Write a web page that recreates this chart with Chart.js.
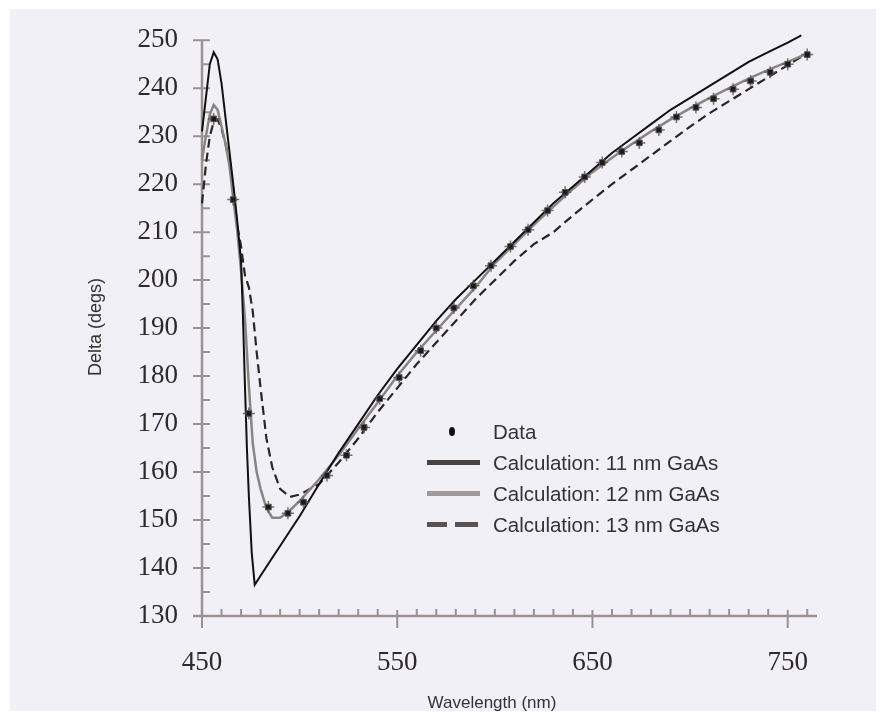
<!DOCTYPE html>
<html>
<head>
<meta charset="utf-8">
<script src="https://cdn.jsdelivr.net/npm/chart.js@4.4.1/dist/chart.umd.min.js"></script>
<style>
  html, body { margin: 0; padding: 0; background: #fff; }
  #wrap { position: relative; width: 885px; height: 719px; }
  #panel { position: absolute; left: 10px; top: 9px; width: 866px; height: 702px; background: #f0f0f6; }
  #grafico { position: absolute; left: 0; top: 0; }
  .leg { position: absolute; font-family: "Liberation Sans", Arial, sans-serif; font-size: 20.5px; color: #333; line-height: 24px; white-space: nowrap; }
  .tit { position: absolute; font-family: "Liberation Sans", Arial, sans-serif; color: #333; white-space: nowrap; line-height: 20px; }
  .sym { position: absolute; }
</style>
</head>
<body>
<div id="wrap">
  <div id="panel"></div>
  <canvas id="grafico" width="885" height="719"></canvas>
  <div class="tit" style="left:392px;top:693px;width:200px;text-align:center;font-size:17px;">Wavelength (nm)</div>
  <div class="tit" style="left:-5px;top:317px;width:200px;text-align:center;font-size:18px;transform:rotate(-90deg);">Delta (degs)</div>
  <div class="sym" style="left:449px;top:427px;width:6px;height:9px;border-radius:50%;background:#111;"></div>
  <div class="leg" style="left:493px;top:420px;">Data</div>
  <div class="sym" style="left:427px;top:460px;width:53px;height:5px;background:#4b4343;"></div>
  <div class="leg" style="left:493px;top:451px;">Calculation: 11 nm GaAs</div>
  <div class="sym" style="left:427px;top:491px;width:53px;height:5px;background:#a29a9a;"></div>
  <div class="leg" style="left:493px;top:482px;">Calculation: 12 nm GaAs</div>
  <div class="sym" style="left:427px;top:522px;width:20px;height:5px;background:#5a5252;"></div>
  <div class="sym" style="left:455px;top:522px;width:23px;height:5px;background:#5a5252;"></div>
  <div class="leg" style="left:493px;top:513px;">Calculation: 13 nm GaAs</div>
</div>
<script>
// measured data
const dataWl = [456, 466, 474, 484, 494, 502, 514, 524, 533, 541, 551, 562, 570, 579, 589,
  598, 608, 617, 627, 636, 646, 655, 665, 674, 684, 693, 703, 712, 722, 731, 741, 750, 760];
const dataDelta = [233.6, 216.8, 172.2, 152.7, 151.4, 153.7, 159.3, 163.5, 169.3, 175.3, 179.7, 185.3, 190, 194.2, 198.8,
  203, 207, 210.5, 214.5, 218.3, 221.5, 224.5, 226.8, 228.6, 231.3, 234, 236, 237.8, 239.8, 241.5, 243.3, 245, 247];

// 11 nm calculation
const wl11 = [450, 452, 454, 456, 458, 460, 462, 464, 466, 468, 470, 471, 472, 473, 474, 475.5, 477,
  480, 485, 490, 495, 500, 510, 520, 530, 540, 550, 560, 570, 580, 590, 600, 610, 620, 630, 640,
  650, 660, 670, 680, 690, 700, 710, 720, 730, 740, 750, 757];
const delta11 = [231, 238, 245, 247.5, 246, 241, 234, 227, 220, 212.5, 204, 192, 178, 165, 155, 143, 136.5,
  138.4, 141.5, 144.6, 147.7, 150.8, 157.5, 164, 170, 176, 181.5, 186.5, 191.5, 196, 200, 204, 208, 212, 216, 219.5,
  223, 226.5, 229.5, 232.5, 235.5, 238, 240.5, 243, 245.5, 247.5, 249.5, 251];

// 12 nm calculation
const wl12 = [450, 452, 454, 456, 458, 460, 462, 464, 466, 468, 470, 472, 474, 476, 478, 480, 483, 486,
  490, 495, 500, 510, 520, 530, 540, 550, 560, 570, 580, 590, 600, 610, 620, 630, 640,
  650, 660, 670, 680, 690, 700, 710, 720, 730, 740, 750, 760];
const delta12 = [225, 230, 234.5, 236.5, 235.5, 232, 228.5, 224, 217, 210.5, 202, 192, 178, 166, 160, 156.5, 152.5, 150.5,
  150.5, 152, 154, 158.5, 163.5, 169, 174.5, 180, 185, 189.5, 194, 198.5, 203.5, 207.5, 211.5, 215.3, 219,
  222.5, 225.5, 228.3, 231, 233.5, 235.8, 238, 240, 242, 243.8, 245.5, 247.2];

// 13 nm calculation
const wl13 = [450, 452, 454, 456, 458, 460, 462, 464, 466, 468, 470, 472, 474, 476, 478, 480, 483, 486,
  490, 495, 500, 510, 520, 530, 540, 550, 560, 570, 580, 590, 600, 610, 620, 630, 640,
  650, 660, 670, 680, 690, 700, 710, 720, 730, 740, 750, 760];
const delta13 = [216, 224, 230, 233, 233.5, 231.5, 228.5, 224.5, 219, 211.5, 207, 201, 198.5, 193.5, 185, 177.5, 167, 161,
  156.5, 154.8, 155.3, 157.5, 162, 167, 172.5, 177.5, 182.5, 187, 191.5, 196, 200, 204, 207.5, 210, 213.5,
  216.8, 220, 223, 226, 229, 232, 234.8, 237.3, 239.8, 242.3, 244.8, 247.3];

const yTicks = [130, 140, 150, 160, 170, 180, 190, 200, 210, 220, 230, 240, 250];
const xTicks = [450, 550, 650, 750];

function pares(xs, ys) {
  return xs.map(function (x, i) { return { x: x, y: ys[i] }; });
}

const corEixo = "#9a9292";

const eixos = {
  id: "eixos",
  beforeDatasetsDraw(chart) {
    const c = chart.ctx;
    const sx = chart.scales.x, sy = chart.scales.y;
    const x0 = sx.getPixelForValue(450);
    const y0 = sy.getPixelForValue(130);
    c.save();
    c.strokeStyle = corEixo;
    c.lineWidth = 2.5;
    c.beginPath();
    c.moveTo(x0, y0);
    c.lineTo(x0, sy.getPixelForValue(250));
    c.moveTo(x0 - 9, y0);
    c.lineTo(sx.right, y0);
    c.stroke();
    c.lineWidth = 2;
    c.beginPath();
    for (let v = 130; v <= 250; v += 5) {
      const y = sy.getPixelForValue(v);
      if (v % 10 === 0) { c.moveTo(x0 - 9, y); c.lineTo(x0 + 8, y); }
      else { c.moveTo(x0, y); c.lineTo(x0 + 8, y); }
    }
    for (let v = 460; v <= 760; v += 10) {
      const x = sx.getPixelForValue(v);
      if ((v - 450) % 100 === 0) { c.moveTo(x, y0 - 6); c.lineTo(x, y0 + 12); }
      else { c.moveTo(x, y0 - 7); c.lineTo(x, y0); }
    }
    const xa = sx.getPixelForValue(450);
    c.moveTo(xa, y0); c.lineTo(xa, y0 + 12);
    c.stroke();
    c.restore();
  }
};

const ctx = document.getElementById("grafico");

new Chart(ctx, {
  type: "scatter",
  data: {
    datasets: [
      {
        label: "Data",
        data: pares(dataWl, dataDelta),
        showLine: false,
        pointStyle: "rect",
        pointRadius: 4,
        backgroundColor: "#1c1a1a",
        borderColor: "#555",
        borderWidth: 1,
        clip: false,
      },
      {
        label: "Data (barras)",
        data: pares(dataWl, dataDelta),
        showLine: false,
        pointStyle: "cross",
        pointRadius: 6,
        backgroundColor: "rgba(0,0,0,0)",
        borderColor: "rgba(90,82,82,0.8)",
        borderWidth: 1.5,
        clip: false,
      },
      {
        label: "Calculation: 11 nm GaAs",
        data: pares(wl11, delta11),
        showLine: true,
        pointRadius: 0,
        borderColor: "#111",
        borderWidth: 2,
        tension: 0,
        clip: false,
      },
      {
        label: "Calculation: 12 nm GaAs",
        data: pares(wl12, delta12),
        showLine: true,
        pointRadius: 0,
        borderColor: "#8c8484",
        borderWidth: 2.5,
        tension: 0,
        clip: false,
      },
      {
        label: "Calculation: 13 nm GaAs",
        data: pares(wl13, delta13),
        showLine: true,
        pointRadius: 0,
        borderColor: "#2a2626",
        borderWidth: 2.2,
        borderDash: [9, 5],
        tension: 0,
        clip: false,
      },
    ],
  },
  options: {
    responsive: false,
    animation: false,
    layout: { padding: { left: 80, top: 38, right: 68, bottom: 0 } },
    plugins: {
      legend: { display: false },
      tooltip: { enabled: false },
    },
    scales: {
      x: {
        type: "linear",
        min: 450,
        max: 765,
        grid: { display: false, drawTicks: false },
        border: { display: false },
        afterBuildTicks: function (s) { s.ticks = xTicks.map(function (v) { return { value: v }; }); },
        afterFit: function (s) { s.height = 103; },
        ticks: {
          padding: 31,
          maxRotation: 0,
          autoSkip: false,
          color: "#2e2a2a",
          font: { family: "'Liberation Serif', 'Times New Roman', serif", size: 27 },
        },
      },
      y: {
        type: "linear",
        min: 130,
        max: 250,
        grid: { display: false, drawTicks: false },
        border: { display: false },
        afterBuildTicks: function (s) { s.ticks = yTicks.map(function (v) { return { value: v }; }); },
        afterFit: function (s) { s.width = 122; },
        ticks: {
          padding: 24,
          color: "#2e2a2a",
          font: { family: "'Liberation Serif', 'Times New Roman', serif", size: 27 },
        },
      },
    },
  },
  plugins: [eixos],
});
</script>
</body>
</html>
